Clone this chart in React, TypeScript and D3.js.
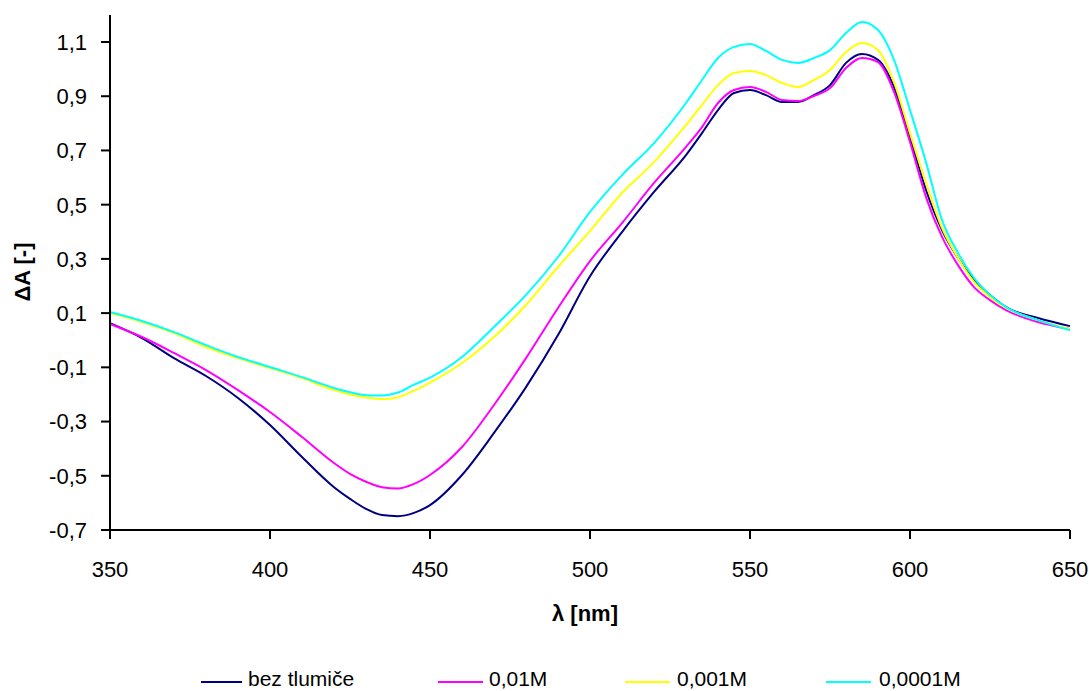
import React, { useEffect } from "react";
import * as d3 from "d3";

const wavelengths = [350,360,370,380,390,400,410,420,425,430,435,440,445,450,460,470,480,490,500,510,520,530,535,540,545,550,555,560,565,570,575,580,585,590,595,600,605,610,615,620,625,630,640,650];

const bezTlumice = [0.063,0.008,-0.066,-0.132,-0.213,-0.313,-0.431,-0.542,-0.585,-0.622,-0.645,-0.649,-0.637,-0.608,-0.497,-0.342,-0.173,0.019,0.236,0.399,0.547,0.683,0.764,0.849,0.912,0.923,0.904,0.879,0.879,0.904,0.941,1.023,1.056,1.034,0.934,0.750,0.554,0.406,0.303,0.222,0.167,0.122,0.082,0.052];
const c001 = [0.060,0.012,-0.047,-0.110,-0.184,-0.265,-0.357,-0.453,-0.493,-0.522,-0.542,-0.547,-0.530,-0.497,-0.394,-0.239,-0.066,0.119,0.292,0.432,0.580,0.713,0.786,0.875,0.923,0.934,0.916,0.886,0.882,0.901,0.930,1.004,1.041,1.026,0.916,0.731,0.528,0.381,0.277,0.196,0.148,0.111,0.067,0.041];
const c0001 = [0.100,0.067,0.026,-0.025,-0.066,-0.103,-0.140,-0.184,-0.200,-0.211,-0.217,-0.210,-0.186,-0.156,-0.084,0.012,0.130,0.270,0.403,0.543,0.657,0.794,0.868,0.941,0.986,0.993,0.978,0.949,0.934,0.960,0.997,1.063,1.096,1.070,0.952,0.764,0.580,0.414,0.303,0.215,0.159,0.119,0.074,0.041];
const c00001 = [0.104,0.071,0.030,-0.018,-0.062,-0.099,-0.136,-0.176,-0.192,-0.203,-0.204,-0.193,-0.164,-0.138,-0.062,0.049,0.167,0.307,0.473,0.609,0.727,0.875,0.960,1.041,1.082,1.093,1.067,1.034,1.023,1.041,1.070,1.133,1.174,1.144,1.034,0.849,0.657,0.444,0.322,0.230,0.167,0.122,0.074,0.037];

const seriesNames = ["bez tlumiče", "0,01M", "0,001M", "0,0001M"];
const seriesColors = ["#000080", "#FF00FF", "#FFFF00", "#00FFFF"];
const seriesValues = [bezTlumice, c001, c0001, c00001];

const xTicks = [350, 400, 450, 500, 550, 600, 650];
const yTicks = [-0.7, -0.5, -0.3, -0.1, 0.1, 0.3, 0.5, 0.7, 0.9, 1.1];

const FONT = "'Liberation Sans', Arial, sans-serif";

export default function App() {
  useEffect(() => {
    document.body.style.margin = "0";
  }, []);

  const x = d3.scaleLinear().domain([350, 650]).range([110, 1070]);
  const y = d3.scaleLinear().domain([-0.7, 1.1]).range([530, 42]);
  const yTop = y(1.2);

  const line = d3
    .line<number>()
    .x((_, i) => x(wavelengths[i]))
    .y((d) => y(d))
    .curve(d3.curveMonotoneX);

  const fmt = (v: number) => v.toFixed(1).replace(".", ",");

  const legendItems = [
    { x0: 201, x1: 242, tx: 248 },
    { x0: 438, x1: 483, tx: 489 },
    { x0: 625, x1: 670, tx: 677 },
    { x0: 826, x1: 871, tx: 879 },
  ];

  return (
    <svg width={1089} height={691} style={{ display: "block", background: "#fff" }} fontFamily={FONT}>
      {seriesValues.map((vals, i) => (
        <path key={i} d={line(vals) || ""} fill="none" stroke={seriesColors[i]} strokeWidth={2} />
      ))}

      <line x1={110} x2={110} y1={yTop} y2={530} stroke="#000" strokeWidth={2} />
      {yTicks.map((t) => (
        <g key={t}>
          <line x1={101} x2={110} y1={y(t)} y2={y(t)} stroke="#000" strokeWidth={2} />
          <text x={87} y={y(t)} dy="0.36em" textAnchor="end" fontSize={22} fill="#000">
            {fmt(t)}
          </text>
        </g>
      ))}

      <line x1={101} x2={1070} y1={530} y2={530} stroke="#000" strokeWidth={2} />
      {xTicks.map((t) => (
        <g key={t}>
          <line x1={x(t)} x2={x(t)} y1={530} y2={539} stroke="#000" strokeWidth={2} />
          <text x={x(t)} y={577} textAnchor="middle" fontSize={22} fill="#000">
            {t}
          </text>
        </g>
      ))}

      <text x={585} y={621} textAnchor="middle" fontSize={22} fontWeight="bold" fill="#000">
        λ [nm]
      </text>
      <text transform="translate(30,272) rotate(-90)" textAnchor="middle" fontSize={22} fontWeight="bold" fill="#000">
        ΔA [-]
      </text>

      {legendItems.map((it, i) => (
        <g key={i}>
          <line x1={it.x0} x2={it.x1} y1={682} y2={682} stroke={seriesColors[i]} strokeWidth={2} />
          <text x={it.tx} y={686} fontSize={21} fill="#000">
            {seriesNames[i]}
          </text>
        </g>
      ))}
    </svg>
  );
}
